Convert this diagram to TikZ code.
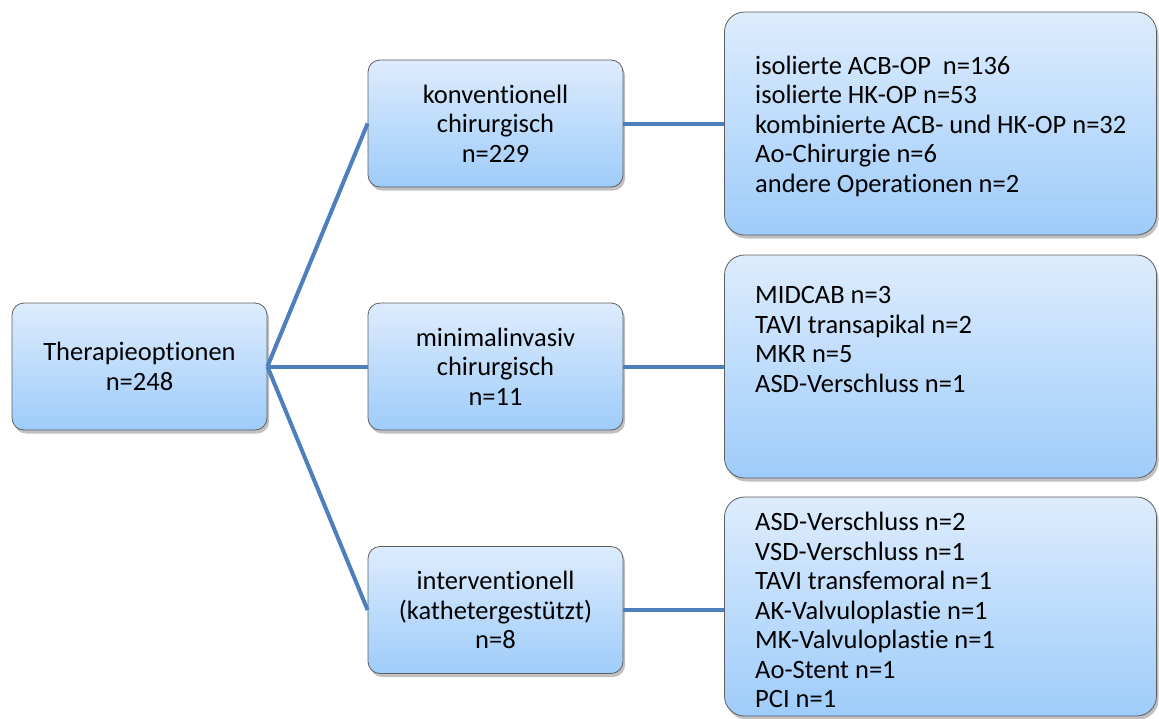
\documentclass[tikz,border=0pt]{standalone}
\usepackage{fontspec}
\setmainfont{Carlito}[Ligatures=NoCommon]
\usetikzlibrary{shadows}
\definecolor{boxtop}{RGB}{221,236,253}
\definecolor{boxbottom}{RGB}{158,204,250}
\definecolor{boxedge}{RGB}{95,95,95}
\definecolor{linkblue}{RGB}{76,127,188}
\tikzset{
  card/.style={draw=boxedge, line width=0.8pt, top color=boxtop, bottom color=boxbottom,
    rounded corners=12pt, drop shadow={shadow xshift=2pt, shadow yshift=-3.5pt, opacity=0.35, fill=black!70},
    inner sep=0pt},
  smallcard/.style={card, minimum width=255pt, minimum height=127pt, align=center,
    font=\fontsize{26.5}{29.5}\selectfont},
  bigcard/.style={card, rounded corners=20pt, minimum width=432pt},
  listtext/.style={anchor=west, align=left, inner sep=0pt, font=\fontsize{26.5}{29.5}\selectfont},
  link/.style={draw=linkblue, line width=4pt}
}
\begin{document}
\begin{tikzpicture}[x=1pt, y=-1pt]
\useasboundingbox (0,0) rectangle (1159,718);
\fill[white] (0,0) rectangle (1159,718);

% left and middle column
\node[smallcard] (root) at (139.5,366.5) {Therapieoptionen\\n=248};
\node[smallcard] (conv) at (495.5,123.5) {konventionell\\chirurgisch\\n=229};
\node[smallcard] (mini) at (495.5,366.5) {minimalinvasiv\\chirurgisch\\n=11};
\node[smallcard] (inter) at (495.5,610) {interventionell\\(kathetergestützt)\\n=8};

% right column boxes
\node[bigcard, minimum height=223pt] (convlist) at (940.5,123.5) {};
\node[bigcard, minimum height=223pt] (minilist) at (940.5,366.5) {};
\node[bigcard, minimum height=219pt] (interlist) at (940.5,606.5) {};

\node[listtext] (convtext) at (755,126) {isolierte ACB-OP\ \ n=136\\isolierte HK-OP n=53\\kombinierte ACB- und HK-OP n=32\\Ao-Chirurgie n=6\\andere Operationen n=2};
\node[listtext] (minitext) at (755,339.5) {MIDCAB n=3\\TAVI transapikal n=2\\MKR n=5\\ASD-Verschluss n=1};
\node[listtext] (intertext) at (755,610) {ASD-Verschluss n=2\\VSD-Verschluss n=1\\TAVI transfemoral n=1\\AK-Valvuloplastie n=1\\MK-Valvuloplastie n=1\\Ao-Stent n=1\\PCI n=1};

% connectors
\draw[link] (root.east) -- (conv.west);
\draw[link] (root.east) -- (mini.west);
\draw[link] (root.east) -- (inter.west);
\draw[link] (conv.east) -- (conv.east -| convlist.west);
\draw[link] (mini.east) -- (mini.east -| minilist.west);
\draw[link] (inter.east) -- (inter.east -| interlist.west);
\end{tikzpicture}
\end{document}
